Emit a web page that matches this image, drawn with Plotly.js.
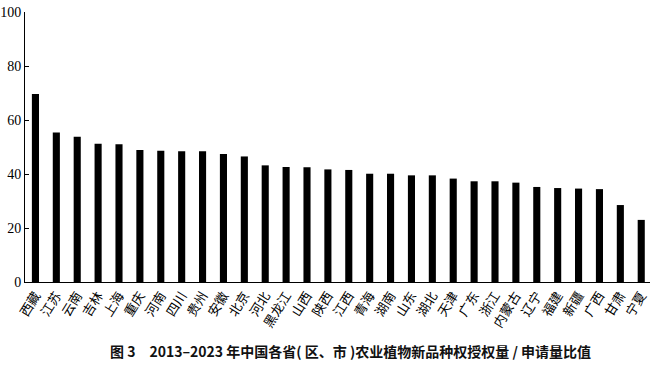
<!DOCTYPE html>
<html>
<head>
<meta charset="utf-8">
<script src="https://cdn.plot.ly/plotly-3.0.1.min.js"></script>
<style>html,body{margin:0;padding:0;background:#fff;}#chart{width:650px;height:366px;}</style>
</head>
<body>
<div id="chart"></div>
<script>
const provinces = ["西藏","江苏","云南","吉林","上海","重庆","河南","四川","贵州","安徽","北京","河北","黑龙江","山西","陕西","江西","青海","湖南","山东","湖北","天津","广东","浙江","内蒙古","辽宁","福建","新疆","广西","甘肃","宁夏"];
const ratios = [69.6,55.4,53.8,51.2,51.0,48.9,48.6,48.4,48.4,47.4,46.5,43.2,42.6,42.5,41.7,41.5,40.1,40.1,39.5,39.5,38.3,37.3,37.3,36.8,35.2,34.8,34.6,34.4,28.5,23.0];
const yTicks = [0,20,40,60,80,100];
const caption = "图 3　2013–2023 年中国各省( 区、市 )农业植物新品种权授权量 / 申请量比值";

const serif = "Liberation Serif, Noto Sans CJK SC, serif";
Plotly.newPlot("chart", [{
  type: "bar",
  x: provinces,
  y: ratios,
  marker: {color: "#000000"},
  hoverinfo: "x+y"
}], {
  width: 650, height: 366,
  margin: {l: 25, r: 0, t: 12, b: 84, pad: 0},
  paper_bgcolor: "#fff", plot_bgcolor: "#fff",
  bargap: 0.66,
  showlegend: false,
  xaxis: {
    type: "category",
    range: [-0.5, 29.42],
    showline: true, linecolor: "#000", linewidth: 1,
    ticks: "", showgrid: false, zeroline: false,
    tickangle: -58,
    tickfont: {family: serif, size: 13, color: "#000"}
  },
  yaxis: {
    range: [0, 100],
    tickvals: yTicks,
    ticktext: yTicks.map(String),
    showline: true, linecolor: "#000", linewidth: 1,
    ticks: "inside", ticklen: 4, tickcolor: "#000",
    showgrid: false, zeroline: false,
    tickfont: {family: serif, size: 14, color: "#000"}
  },
  annotations: [{
    text: caption,
    xref: "paper", yref: "paper",
    x: 0.52, y: -0.255,
    xanchor: "center", yanchor: "middle",
    showarrow: false,
    font: {family: "Noto Sans CJK SC, Liberation Serif", size: 14, color: "#111", weight: "bold"}
  }]
}, {displayModeBar: false, staticPlot: true});
</script>
</body>
</html>
